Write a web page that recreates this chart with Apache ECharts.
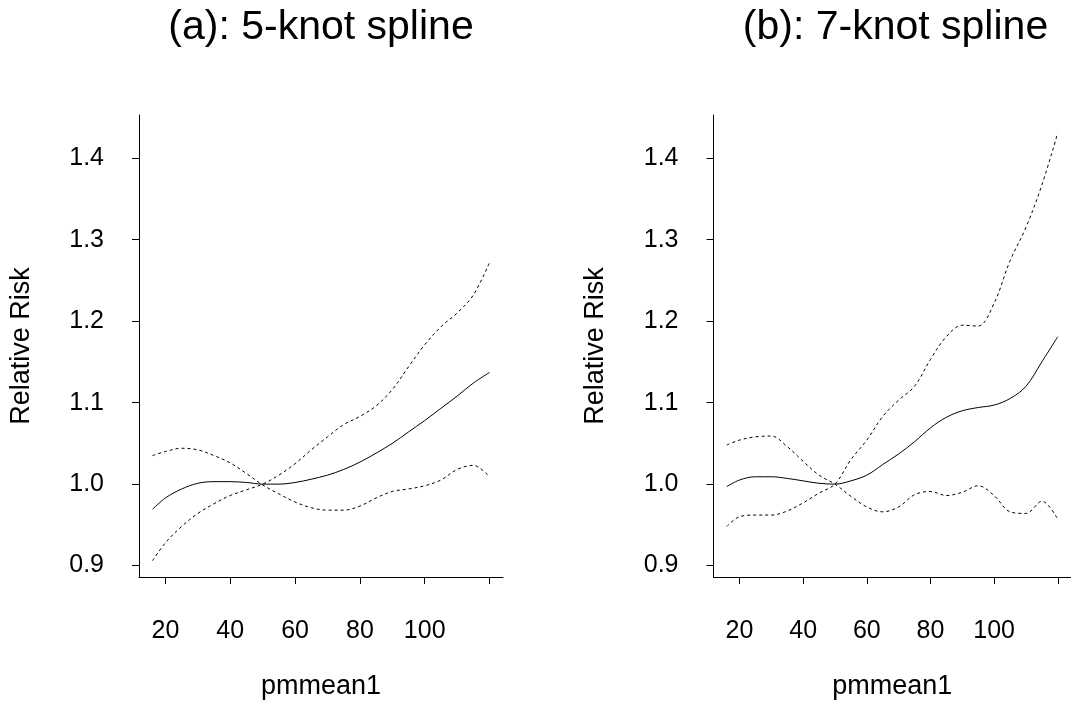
<!DOCTYPE html>
<html>
<head>
<meta charset="utf-8">
<script src="https://cdn.jsdelivr.net/npm/echarts@6/dist/echarts.min.js"></script>
<style>html,body{margin:0;padding:0;background:#fff}#c{width:1071px;height:713px}</style>
</head>
<body>
<div id="c"></div>
<script>
// ---- data ----
const titles = ['(a): 5-knot spline', '(b): 7-knot spline'];
const xName = 'pmmean1';
const yName = 'Relative Risk';
const xTicks = [20, 40, 60, 80, 100, 120];
const xTickLabels = [20, 40, 60, 80, 100];
const yTicks = [0.9, 1.0, 1.1, 1.2, 1.3, 1.4];

const pm = [16, 20, 25, 30, 35, 40, 45, 50, 55, 60, 65, 70, 75, 80, 85, 90, 95, 100, 105, 110, 115, 120];

// (a) 5-knot spline
const fitA   = [0.969, 0.983, 0.994, 1.001, 1.003, 1.003, 1.002, 1.000, 1.000, 1.002, 1.006, 1.011, 1.018, 1.027, 1.038, 1.050, 1.064, 1.078, 1.093, 1.108, 1.124, 1.137];
const upperA = [0.906, 0.928, 0.948, 0.964, 0.976, 0.986, 0.993, 1.000, 1.011, 1.025, 1.042, 1.058, 1.073, 1.083, 1.096, 1.116, 1.144, 1.171, 1.193, 1.210, 1.232, 1.272];
const lowerA = [1.035, 1.040, 1.044, 1.042, 1.035, 1.026, 1.013, 0.999, 0.988, 0.978, 0.971, 0.968, 0.968, 0.973, 0.983, 0.991, 0.994, 0.998, 1.005, 1.018, 1.023, 1.009];

// (b) 7-knot spline
const fitB   = [0.997, 1.005, 1.009, 1.009, 1.007, 1.004, 1.001, 1.000, 1.004, 1.011, 1.024, 1.037, 1.052, 1.069, 1.082, 1.090, 1.094, 1.097, 1.105, 1.120, 1.150, 1.181];
const upperB = [0.948, 0.960, 0.962, 0.962, 0.967, 0.977, 0.989, 1.000, 1.030, 1.054, 1.083, 1.103, 1.120, 1.153, 1.181, 1.195, 1.194, 1.222, 1.274, 1.315, 1.367, 1.431];
const lowerB = [1.048, 1.054, 1.058, 1.059, 1.046, 1.028, 1.011, 1.000, 0.985, 0.972, 0.966, 0.972, 0.987, 0.991, 0.986, 0.990, 0.998, 0.986, 0.966, 0.964, 0.979, 0.957];

// ---- chart ----
const FONT = 'Liberation Sans, Arial, sans-serif';
const pairs = (xs, ys) => xs.map((x, i) => [x, ys[i]]);

function xAxisCfg(gi) {
  return {
    type: 'value', gridIndex: gi, min: 11.84, max: 124.16,
    splitLine: { show: false },
    axisLine: { onZero: false, lineStyle: { color: '#000', width: 1 } },
    axisTick: { show: true, length: 7, customValues: xTicks, lineStyle: { color: '#000', width: 1 } },
    axisLabel: { customValues: xTickLabels, margin: 42, fontSize: 25, color: '#000', fontFamily: FONT },
    name: xName, nameLocation: 'middle', nameGap: 96,
    nameTextStyle: { fontSize: 27, color: '#000', fontFamily: FONT }
  };
}
function yAxisCfg(gi) {
  return {
    type: 'value', gridIndex: gi, min: 0.886, max: 1.453,
    splitLine: { show: false },
    axisLine: { onZero: false, lineStyle: { color: '#000', width: 1 } },
    axisTick: { show: true, length: 7, customValues: yTicks, lineStyle: { color: '#000', width: 1 } },
    axisLabel: { customValues: yTicks, margin: 35, fontSize: 25, color: '#000', fontFamily: FONT,
                 formatter: v => Number(v).toFixed(1) },
    name: yName, nameLocation: 'middle', nameGap: 104,
    nameTextStyle: { fontSize: 27, color: '#000', fontFamily: FONT }
  };
}
function line(data, gi, dashed) {
  return {
    type: 'line', xAxisIndex: gi, yAxisIndex: gi, data: data,
    showSymbol: false, symbol: 'none', smooth: 0.35,
    lineStyle: { color: '#000', width: 1, type: dashed ? [3, 3] : 'solid' },
    silent: true
  };
}

const chart = echarts.init(document.getElementById('c'), null, { renderer: 'canvas' });
chart.setOption({
  animation: false,
  backgroundColor: '#fff',
  title: [
    { text: titles[0], left: 321, top: 7, padding: 0, textAlign: 'center',
      textStyle: { fontSize: 41, fontWeight: 'normal', color: '#000', fontFamily: FONT } },
    { text: titles[1], left: 895.5, top: 7, padding: 0, textAlign: 'center',
      textStyle: { fontSize: 41, fontWeight: 'normal', color: '#000', fontFamily: FONT } }
  ],
  grid: [
    { left: 139, top: 115, width: 364, height: 462 },
    { left: 713.5, top: 115, width: 364, height: 462 }
  ],
  xAxis: [xAxisCfg(0), xAxisCfg(1)],
  yAxis: [yAxisCfg(0), yAxisCfg(1)],
  series: [
    line(pairs(pm, fitA), 0, false),
    line(pairs(pm, upperA), 0, true),
    line(pairs(pm, lowerA), 0, true),
    line(pairs(pm, fitB), 1, false),
    line(pairs(pm, upperB), 1, true),
    line(pairs(pm, lowerB), 1, true)
  ]
});
</script>
</body>
</html>
